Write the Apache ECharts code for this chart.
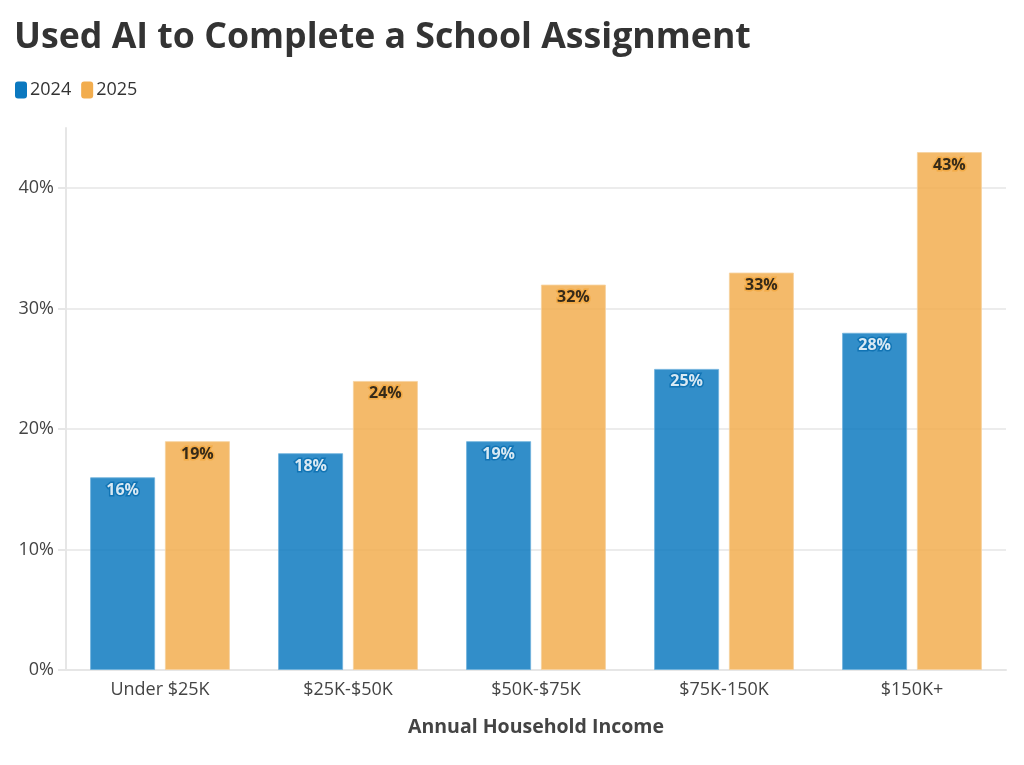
<!DOCTYPE html>
<html>
<head>
<meta charset="utf-8">
<script src="https://cdn.jsdelivr.net/npm/echarts@6/dist/echarts.min.js"></script>
<style>
  html, body { margin: 0; padding: 0; background: #fff; }
  #chart { width: 1024px; height: 765px; }
</style>
</head>
<body>
<div id="chart"></div>
<script>
// 数据
var categories = ['Under $25K', '$25K-$50K', '$50K-$75K', '$75K-150K', '$150K+'];
var values2024 = [16, 18, 19, 25, 28];
var values2025 = [19, 24, 32, 33, 43];
var yTicks = [0, 10, 20, 30, 40];

var FONT = '"Open Sans", "Noto Sans", sans-serif';

var chart = echarts.init(document.getElementById('chart'));

chart.setOption({
  backgroundColor: '#fff',
  textStyle: { fontFamily: FONT },
  title: {
    text: 'Used AI to Complete a School Assignment',
    left: 9,
    top: 15,
    textStyle: { fontFamily: FONT, fontSize: 35.7, fontWeight: 'bold', color: '#333' }
  },
  legend: {
    left: 10,
    top: 76,
    icon: 'roundRect',
    itemWidth: 12,
    itemHeight: 17,
    itemGap: 10,
    textStyle: { fontFamily: FONT, fontSize: 18, color: '#333', padding: [0, 0, 0, -2] },
    data: [
      { name: '2024', itemStyle: { color: '#0b78bf', opacity: 1, borderWidth: 0 } },
      { name: '2025', itemStyle: { color: '#f2ad4e', opacity: 1, borderWidth: 0 } }
    ]
  },
  grid: { left: 66, right: 18, top: 128, bottom: 95, containLabel: false },
  xAxis: {
    type: 'category',
    data: categories,
    name: 'Annual Household Income',
    nameLocation: 'middle',
    nameGap: 47,
    nameTextStyle: { fontFamily: FONT, fontSize: 19.5, fontWeight: 'bold', color: '#444' },
    axisLine: { lineStyle: { color: '#e6e6e6', width: 2 } },
    axisTick: { alignWithLabel: true, length: 8, lineStyle: { color: '#e6e6e6', width: 2 } },
    axisLabel: { fontFamily: FONT, fontSize: 18, color: '#444', margin: 11 }
  },
  yAxis: {
    type: 'value',
    min: 0,
    max: 45,
    interval: 10,
    axisLine: { show: true, lineStyle: { color: '#e6e6e6', width: 2 } },
    axisTick: { show: true, length: 8, lineStyle: { color: '#e6e6e6', width: 2 } },
    splitLine: { show: true, showMaxLine: false, lineStyle: { color: '#ececec', width: 2 } },
    axisLabel: {
      fontFamily: FONT, fontSize: 18, color: '#444', margin: 12,
      showMaxLabel: false,
      formatter: function (v) { return yTicks.indexOf(v) >= 0 ? v + '%' : ''; }
    }
  },
  series: [
    {
      name: '2024',
      type: 'bar',
      data: values2024,
      barWidth: '34.6%',
      barGap: '15%',
      itemStyle: { color: '#0b78bf', opacity: 0.84, borderColor: '#6fb2dc', borderWidth: 1 },
      label: {
        show: true,
        position: 'insideTop',
        distance: 5,
        formatter: '{c}%',
        fontFamily: FONT,
        fontSize: 16,
        fontWeight: 'bold',
        color: '#fff',
        textBorderColor: '#0b6fb0',
        textBorderWidth: 3
      }
    },
    {
      name: '2025',
      type: 'bar',
      data: values2025,
      barWidth: '34.6%',
      itemStyle: { color: '#f2ad4e', opacity: 0.84, borderColor: '#f7d29e', borderWidth: 1 },
      label: {
        show: true,
        position: 'insideTop',
        distance: 5,
        formatter: '{c}%',
        fontFamily: FONT,
        fontSize: 16,
        fontWeight: 'bold',
        color: '#111',
        textBorderColor: '#f2a840',
        textBorderWidth: 3
      }
    }
  ]
});
</script>
</body>
</html>
